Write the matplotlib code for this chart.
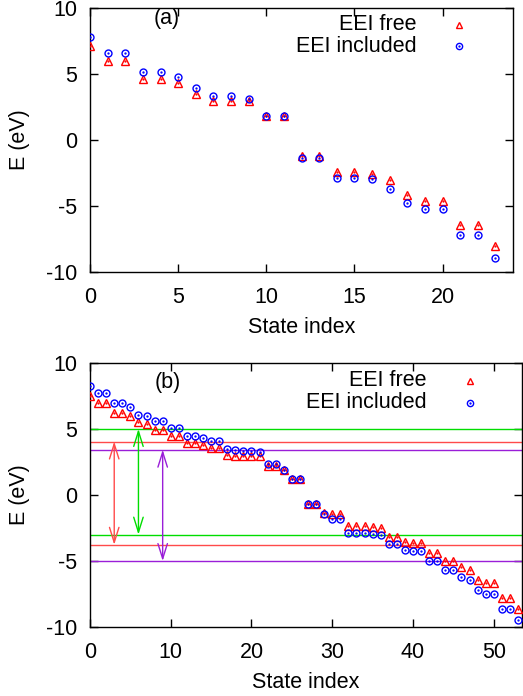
import matplotlib
matplotlib.use('Agg')
import matplotlib.pyplot as plt
import numpy as np

plt.rcParams['font.family'] = ['Liberation Sans', 'DejaVu Sans']
plt.rcParams['font.size'] = 15.5

# panel (a): energies per state
free_a = [7.1, 5.98, 5.98, 4.65, 4.65, 4.29, 3.46, 2.93, 2.93, 2.93, 1.79, 1.79,
          -1.21, -1.21, -2.42, -2.42, -2.6, -3.06, -4.19, -4.65, -4.65, -6.46, -6.46, -8.06]
incl_a = [7.83, 6.6, 6.6, 5.15, 5.15, 4.77, 3.94, 3.31, 3.31, 3.08, 1.79, 1.79,
          -1.34, -1.34, -2.88, -2.9, -2.93, -3.69, -4.77, -5.25, -5.25, -7.2, -7.2, -8.91]

# panel (b)
free_b = [7.53, 6.97, 6.97, 6.22, 6.22, 6.01, 5.5, 5.35, 4.95, 4.95,
          4.5, 4.5, 3.91, 3.91, 3.81, 3.56, 3.56, 3.0, 2.98, 2.96,
          2.96, 2.95, 2.2, 2.2, 1.89, 1.24, 1.24, -0.68, -0.68, -1.4,
          -1.47, -1.47, -2.35, -2.35, -2.35, -2.42, -2.47, -3.16, -3.16, -3.56,
          -3.6, -3.62, -4.38, -4.38, -5.0, -5.0, -5.45, -5.7, -6.41, -6.69,
          -6.69, -7.78, -7.78, -8.61]
incl_b = [8.27, 7.69, 7.69, 6.94, 6.94, 6.66, 6.08, 5.98, 5.58, 5.58,
          5.05, 5.05, 4.45, 4.45, 4.29, 4.07, 4.07, 3.45, 3.38, 3.31,
          3.31, 3.28, 2.32, 2.32, 1.89, 1.24, 1.24, -0.68, -0.68, -1.44,
          -1.83, -1.83, -2.85, -2.85, -2.85, -2.95, -3.0, -3.74, -3.74, -4.17,
          -4.22, -4.24, -5.02, -5.02, -5.7, -5.7, -6.21, -6.41, -7.17, -7.53,
          -7.53, -8.61, -8.61, -9.47]

# gap levels (upper, lower) and arrow positions in panel (b)
gap_colors = ['#00dd00', '#ff4a4a', '#9a1ed8']
gap_upper = [5.0, 4.05, 3.43]
gap_lower = [-3.0, -3.77, -5.0]
arrow_x = [6, 3, 9]

RED = '#ff0000'
BLUE = '#0000ff'
TRI_MS = 5.5
CIRC_MS = 5.0


def draw_points(ax, free, incl):
    idx = np.arange(len(free))
    ax.plot(idx, free, ls='none', marker='^', ms=TRI_MS, mfc='none', mec=RED, mew=1.0, zorder=4)
    ax.plot(idx, free, ls='none', marker='.', ms=1.3, color=RED, zorder=4)
    ax.plot(idx, incl, ls='none', marker='o', ms=CIRC_MS, mfc='none', mec=BLUE, mew=1.0, zorder=5)
    ax.plot(idx, incl, ls='none', marker='.', ms=1.3, color=BLUE, zorder=5)


def draw_key(ax, xt, xm, y1, y2):
    ax.text(xt, y1, 'EEI free', transform=ax.transAxes, ha='right', va='center')
    ax.text(xt, y2, 'EEI included', transform=ax.transAxes, ha='right', va='center')
    ax.plot([xm], [y1], transform=ax.transAxes, marker='^', ms=4.5, mfc='none',
            mec=RED, mew=1.0, clip_on=False)
    ax.plot([xm], [y2], transform=ax.transAxes, marker='o', ms=4.5, mfc='none',
            mec=BLUE, mew=1.0, clip_on=False)
    ax.plot([xm], [y2], transform=ax.transAxes, marker='.', ms=1.3, color=BLUE, clip_on=False)


def style(ax):
    ax.set_ylim(-10, 10)
    ax.set_yticks([-10, -5, 0, 5, 10])
    ax.set_yticklabels(['-10', '-5', '0', '5', '10'])
    ax.tick_params(direction='in', top=True, right=True, length=6, width=1, pad=11)
    ax.tick_params(axis='y', pad=9)
    for s in ax.spines.values():
        s.set_linewidth(1.0)
    ax.set_xlabel('State index', labelpad=6)
    ax.set_ylabel('E (eV)', labelpad=12)


fig = plt.figure(figsize=(5.23, 6.96), dpi=100)

ax1 = fig.add_axes([90 / 523, 1 - 272 / 696, 423 / 523, 264 / 696])
draw_points(ax1, free_a, incl_a)
ax1.set_xlim(0, 24)
ax1.set_xticks([0, 5, 10, 15, 20])
style(ax1)
ax1.text(0.181, 0.962, '(a)', transform=ax1.transAxes, ha='center', va='center')
draw_key(ax1, 0.771, 0.872, 0.936, 0.856)

ax2 = fig.add_axes([90 / 523, 1 - 627 / 696, 432 / 523, 264 / 696])
for c, hi, lo, x in zip(gap_colors, gap_upper, gap_lower, arrow_x):
    ax2.axhline(hi, color=c, lw=1.0, zorder=2)
    ax2.axhline(lo, color=c, lw=1.0, zorder=2)
    ax2.annotate('', xy=(x, hi), xytext=(x, lo),
                 arrowprops=dict(arrowstyle='<->,head_length=0.7,head_width=0.22',
                                 color=c, lw=1.0, shrinkA=0, shrinkB=0), zorder=3)
draw_points(ax2, free_b, incl_b)
ax2.set_xlim(0, 53.5)
ax2.set_xticks([0, 10, 20, 30, 40, 50])
style(ax2)
ax2.text(0.18, 0.928, '(b)', transform=ax2.transAxes, ha='center', va='center')
draw_key(ax2, 0.779, 0.88, 0.932, 0.85)

fig.savefig('out.png', dpi=100)
